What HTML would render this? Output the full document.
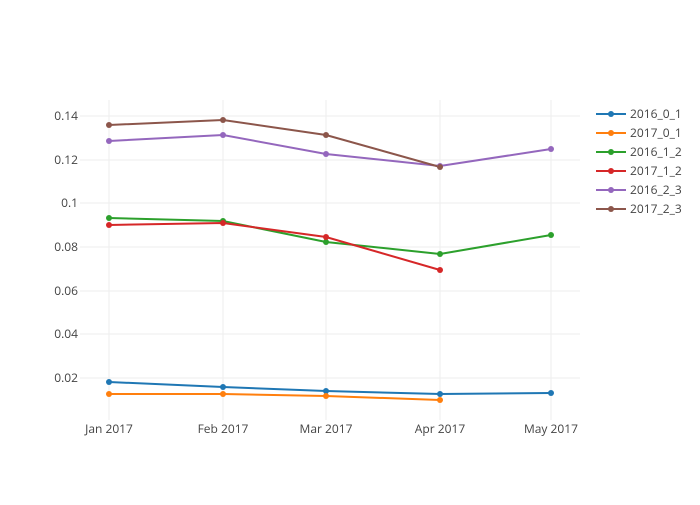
<!DOCTYPE html>
<html><head><meta charset="utf-8"><style>
body{margin:0;background:#fff}
svg text{font-family:"Open Sans","Liberation Sans",sans-serif;font-size:12px;fill:#444}
</style></head><body>
<svg width="700" height="500" xmlns="http://www.w3.org/2000/svg">
<g stroke="#eee" stroke-width="1">
<line x1="109" y1="100" x2="109" y2="420"/><line x1="223" y1="100" x2="223" y2="420"/><line x1="326" y1="100" x2="326" y2="420"/><line x1="440" y1="100" x2="440" y2="420"/><line x1="551" y1="100" x2="551" y2="420"/>
<line x1="80" y1="116" x2="580" y2="116"/><line x1="80" y1="160" x2="580" y2="160"/><line x1="80" y1="203" x2="580" y2="203"/><line x1="80" y1="247" x2="580" y2="247"/><line x1="80" y1="291" x2="580" y2="291"/><line x1="80" y1="334" x2="580" y2="334"/><line x1="80" y1="378" x2="580" y2="378"/>
</g>
<g text-anchor="end">
<text x="78" y="120">0.14</text><text x="78" y="164">0.12</text><text x="78" y="207">0.1</text><text x="78" y="251">0.08</text><text x="78" y="295">0.06</text><text x="78" y="338">0.04</text><text x="78" y="382">0.02</text>
</g>
<g text-anchor="middle">
<text x="109" y="433">Jan 2017</text><text x="223" y="433">Feb 2017</text><text x="326" y="433">Mar 2017</text><text x="440" y="433">Apr 2017</text><text x="551" y="433">May 2017</text>
</g>
<g fill="none" stroke-width="2">
<polyline stroke="#1f77b4" points="109,382 223,387 326,391 440,394 551,393"/>
<polyline stroke="#ff7f0e" points="109,394 223,394 326,396 440,400"/>
<polyline stroke="#2ca02c" points="109,218 223,221 326,242 440,254 551,235"/>
<polyline stroke="#d62728" points="109,225 223,223 326,237 440,270"/>
<polyline stroke="#9467bd" points="109,141 223,135 326,154 440,166 551,149"/>
<polyline stroke="#8c564b" points="109,125 223,120 326,135 440,167"/>
</g>
<g fill="#1f77b4"><circle cx="109" cy="382" r="3"/><circle cx="223" cy="387" r="3"/><circle cx="326" cy="391" r="3"/><circle cx="440" cy="394" r="3"/><circle cx="551" cy="393" r="3"/></g>
<g fill="#ff7f0e"><circle cx="109" cy="394" r="3"/><circle cx="223" cy="394" r="3"/><circle cx="326" cy="396" r="3"/><circle cx="440" cy="400" r="3"/></g>
<g fill="#2ca02c"><circle cx="109" cy="218" r="3"/><circle cx="223" cy="221" r="3"/><circle cx="326" cy="242" r="3"/><circle cx="440" cy="254" r="3"/><circle cx="551" cy="235" r="3"/></g>
<g fill="#d62728"><circle cx="109" cy="225" r="3"/><circle cx="223" cy="223" r="3"/><circle cx="326" cy="237" r="3"/><circle cx="440" cy="270" r="3"/></g>
<g fill="#9467bd"><circle cx="109" cy="141" r="3"/><circle cx="223" cy="135" r="3"/><circle cx="326" cy="154" r="3"/><circle cx="440" cy="166" r="3"/><circle cx="551" cy="149" r="3"/></g>
<g fill="#8c564b"><circle cx="109" cy="125" r="3"/><circle cx="223" cy="120" r="3"/><circle cx="326" cy="135" r="3"/><circle cx="440" cy="167" r="3"/></g>
<g stroke-width="2">
<line x1="596" y1="114" x2="626" y2="114" stroke="#1f77b4"/><circle cx="611" cy="114" r="3" fill="#1f77b4"/>
<line x1="596" y1="133" x2="626" y2="133" stroke="#ff7f0e"/><circle cx="611" cy="133" r="3" fill="#ff7f0e"/>
<line x1="596" y1="152" x2="626" y2="152" stroke="#2ca02c"/><circle cx="611" cy="152" r="3" fill="#2ca02c"/>
<line x1="596" y1="171" x2="626" y2="171" stroke="#d62728"/><circle cx="611" cy="171" r="3" fill="#d62728"/>
<line x1="596" y1="190" x2="626" y2="190" stroke="#9467bd"/><circle cx="611" cy="190" r="3" fill="#9467bd"/>
<line x1="596" y1="209" x2="626" y2="209" stroke="#8c564b"/><circle cx="611" cy="209" r="3" fill="#8c564b"/>
</g>
<text x="630" y="118">2016_0_1</text><text x="630" y="137">2017_0_1</text><text x="630" y="156">2016_1_2</text><text x="630" y="175">2017_1_2</text><text x="630" y="194">2016_2_3</text><text x="630" y="213">2017_2_3</text>
</svg>
</body></html>
